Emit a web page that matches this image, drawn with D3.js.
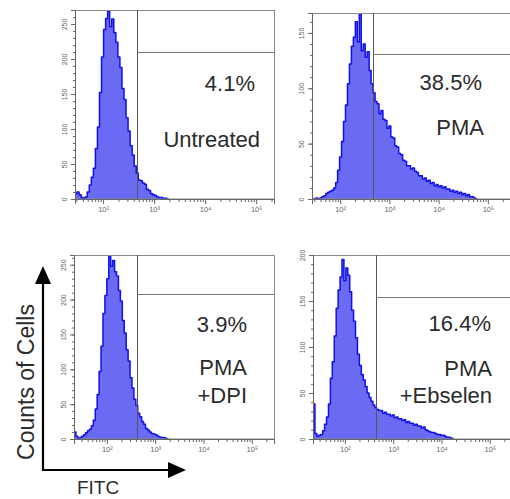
<!DOCTYPE html>
<html>
<head>
<meta charset="utf-8">
<script src="https://cdn.jsdelivr.net/npm/d3@7"></script>
<style>
  body { margin: 0; background: #fff; }
  svg { display: block; font-family: "Liberation Sans", Arial, sans-serif; }
</style>
</head>
<body>
<svg id="chart" width="510" height="499"></svg>
<script>
// Histogram channel width, in decades of FITC intensity
const binStep = 0.04;

// Counts per channel; each series starts at the given log10(FITC) value
const untreatedStart = 1.45;
const untreatedCounts = [8,10,6,2,1,3,10,20,31,44,72,103,152,203,242,258,268,246,257,238,224,203,188,158,142,116,97,76,63,47,37,27,26,23,21,14,12,8,6,5,3,2,2,1,1,0];

const pmaStart = 1.43;
const pmaCounts = [0,0,1,0,1,2,3,5,6,7,8,10,15,26,38,52,70,85,104,122,138,146,160,142,167,134,140,128,133,116,104,96,88,86,77,80,72,71,64,66,56,55,48,47,41,40,35,34,30,30,27,28,25,24,21,21,18,19,16,17,14,15,12,13,11,12,10,11,9,9,7,8,6,7,5,6,4,5,3,4,2,2,1,0];

const dpiStart = 1.32;
const dpiCounts = [10,4,1,2,4,6,9,12,14,19,27,43,64,97,133,180,206,230,262,248,256,240,234,213,198,170,152,128,112,88,73,57,48,37,32,25,21,15,13,10,8,7,6,4,3,2,2,1,0];

const ebselenStart = 1.34;
const ebselenCounts = [38,6,3,4,5,9,16,24,38,66,84,112,142,162,176,195,172,186,178,160,140,128,110,92,80,70,64,57,50,45,41,37,34,32,31,31,28,29,27,27,25,26,23,24,22,22,20,21,18,19,17,17,15,16,14,14,12,13,10,9,8,7,7,6,5,5,4,4,3,2,2,1,0];

// Treatment labels and gated percentages
const treatmentLines = [["Untreated"], ["PMA"], ["PMA", "+DPI"], ["PMA", "+Ebselen"]];
const gatePercents = ["4.1%", "38.5%", "3.9%", "16.4%"];
// Gate boundary (log10 FITC)
const gateLogs = [2.67, 2.67, 2.62, 2.64];

// Y-axis tick labels and axis maxima
const yTickLabels = [[0,50,100,150,200,250], [0,50,100,150], [0,50,100,150,200,250], [0,50,100,150,200]];
const yMaxima = [270, 168, 264, 200];
// X-axis decade exponents
const decadeExponents = [2, 3, 4, 5];

const series = [
  { start: untreatedStart, counts: untreatedCounts },
  { start: pmaStart, counts: pmaCounts },
  { start: dpiStart, counts: dpiCounts },
  { start: ebselenStart, counts: ebselenCounts }
];

// Panel frames: plot rectangle and the x-range (decades) each frame spans
const layout = [
  { left: 75,  top: 10,  width: 199, height: 189, logMin: 1.45, logMax: 5.35, gateBar: 42, pctX: 180, pctY: 81, nameX: 185, nameY: [137] },
  { left: 312, top: 13,  width: 200, height: 186, logMin: 1.43, logMax: 5.49, gateBar: 41, pctX: 170, pctY: 77, nameX: 172, nameY: [122] },
  { left: 74,  top: 255, width: 200, height: 184, logMin: 1.32, logMax: 5.46, gateBar: 39, pctX: 173, pctY: 77, nameX: 173, nameY: [120, 148] },
  { left: 313, top: 255, width: 200, height: 184, logMin: 1.34, logMax: 5.48, gateBar: 42, pctX: 178, pctY: 76, nameX: 179, nameY: [121, 148] }
];

const superscripts = { 1: "\u00b9", 2: "\u00b2", 3: "\u00b3", 4: "\u2074", 5: "\u2075" };

const svg = d3.select("#chart");

series.forEach((s, p) => {
  const L = layout[p];
  const g = svg.append("g").attr("transform", `translate(${L.left},${L.top})`);

  const x = d3.scaleLog()
    .domain([Math.pow(10, L.logMin), Math.pow(10, L.logMax)])
    .range([0, L.width]);
  const y = d3.scaleLinear().domain([0, yMaxima[p]]).range([L.height, 0]);

  // channel edges -> step area
  const pts = s.counts.map((c, i) => ({ v: Math.pow(10, s.start + i * binStep), c }));
  pts.push({ v: Math.pow(10, s.start + s.counts.length * binStep), c: s.counts[s.counts.length - 1] });

  const clipId = "clip" + p;
  g.append("clipPath").attr("id", clipId)
    .append("rect").attr("x", 0).attr("y", 0).attr("width", L.width).attr("height", L.height);

  const area = d3.area()
    .x(d => x(d.v)).y0(y(0)).y1(d => y(d.c))
    .curve(d3.curveStepAfter);
  const line = d3.line()
    .x(d => x(d.v)).y(d => y(d.c))
    .curve(d3.curveStepAfter);

  const hist = g.append("g").attr("clip-path", `url(#${clipId})`);
  hist.append("path").datum(pts).attr("d", area)
    .attr("fill", "#6a6af2");
  hist.append("path").datum(pts).attr("d", line)
    .attr("fill", "none").attr("stroke", "#1010e8").attr("stroke-width", 1.5)
    .attr("stroke-linejoin", "round");

  // frame
  g.append("rect").attr("x", 0.5).attr("y", 0.5)
    .attr("width", L.width).attr("height", L.height - 0.5)
    .attr("fill", "none").attr("stroke", "#8a8a8a").attr("stroke-width", 1);

  // gate
  const gx = Math.round(x(Math.pow(10, gateLogs[p]))) + 0.5;
  g.append("line").attr("x1", gx).attr("x2", gx).attr("y1", 0).attr("y2", L.height)
    .attr("stroke", "#555").attr("stroke-width", 1);
  g.append("line").attr("x1", gx).attr("x2", L.width).attr("y1", L.gateBar + 0.5).attr("y2", L.gateBar + 0.5)
    .attr("stroke", "#777").attr("stroke-width", 1);

  // x axis: minor log ticks, then labelled decades
  const minor = [];
  for (let k = 1; k <= 5; k++) {
    for (let m = 2; m <= 9; m++) {
      const v = m * Math.pow(10, k);
      if (v >= x.domain()[0] && v <= x.domain()[1]) minor.push(v);
    }
  }
  const majors = decadeExponents.map(e => Math.pow(10, e));

  const xMinor = g.append("g").attr("transform", `translate(0,${L.height})`)
    .call(d3.axisBottom(x).tickValues(minor).tickSize(3).tickFormat(""));
  const xMajor = g.append("g").attr("transform", `translate(0,${L.height})`)
    .call(d3.axisBottom(x).tickValues(majors).tickSize(5).tickPadding(3)
      .tickFormat(v => "10" + superscripts[Math.round(Math.log10(v))]));
  [xMinor, xMajor].forEach(ax => {
    ax.select(".domain").attr("stroke", "#666");
    ax.selectAll(".tick line").attr("stroke", "#666");
  });
  xMajor.selectAll(".tick text").attr("fill", "#666").attr("font-size", 7.5)
    .attr("font-family", "'Liberation Sans', Arial, sans-serif");

  // y axis: minor ticks every 10 counts, labelled majors
  const yMinorVals = d3.range(0, yMaxima[p] + 0.001, 10);
  const yMinor = g.append("g")
    .call(d3.axisLeft(y).tickValues(yMinorVals).tickSize(2).tickFormat(""));
  const yMajor = g.append("g")
    .call(d3.axisLeft(y).tickValues(yTickLabels[p]).tickSize(4));
  [yMinor, yMajor].forEach(ax => {
    ax.select(".domain").attr("stroke", "#666");
    ax.selectAll(".tick line").attr("stroke", "#666");
  });
  yMajor.selectAll(".tick text")
    .attr("x", 0).attr("y", -8).attr("dy", 0)
    .attr("text-anchor", "middle").attr("transform", "rotate(-90)")
    .attr("fill", "#666").attr("font-size", 7)
    .attr("font-family", "'Liberation Sans', Arial, sans-serif");

  // gated percentage and treatment name
  g.append("text").attr("x", L.pctX).attr("y", L.pctY)
    .attr("text-anchor", "end").attr("font-size", 22).attr("fill", "#2b2b2b")
    .text(gatePercents[p]);
  treatmentLines[p].forEach((t, i) => {
    g.append("text").attr("x", L.nameX).attr("y", L.nameY[i])
      .attr("text-anchor", "end").attr("font-size", 22).attr("fill", "#2b2b2b")
      .text(t);
  });
});

// Axis key: Counts of Cells (vertical) vs FITC (horizontal)
const key = svg.append("g");
key.append("line").attr("x1", 43).attr("y1", 471).attr("x2", 43).attr("y2", 282)
  .attr("stroke", "#000").attr("stroke-width", 2.2);
key.append("path").attr("d", "M43,266 L35,284 L51,284 Z").attr("fill", "#000");
key.append("line").attr("x1", 42).attr("y1", 470).attr("x2", 170).attr("y2", 470)
  .attr("stroke", "#000").attr("stroke-width", 2.2);
key.append("path").attr("d", "M186,470 L168,462 L168,478 Z").attr("fill", "#000");

key.append("text")
  .attr("transform", "translate(34,382) rotate(-90)")
  .attr("text-anchor", "middle").attr("font-size", 23).attr("fill", "#2b2b2b")
  .text("Counts of Cells");
key.append("text").attr("x", 98).attr("y", 494)
  .attr("text-anchor", "middle").attr("font-size", 19).attr("fill", "#2b2b2b")
  .text("FITC");
</script>
</body>
</html>
